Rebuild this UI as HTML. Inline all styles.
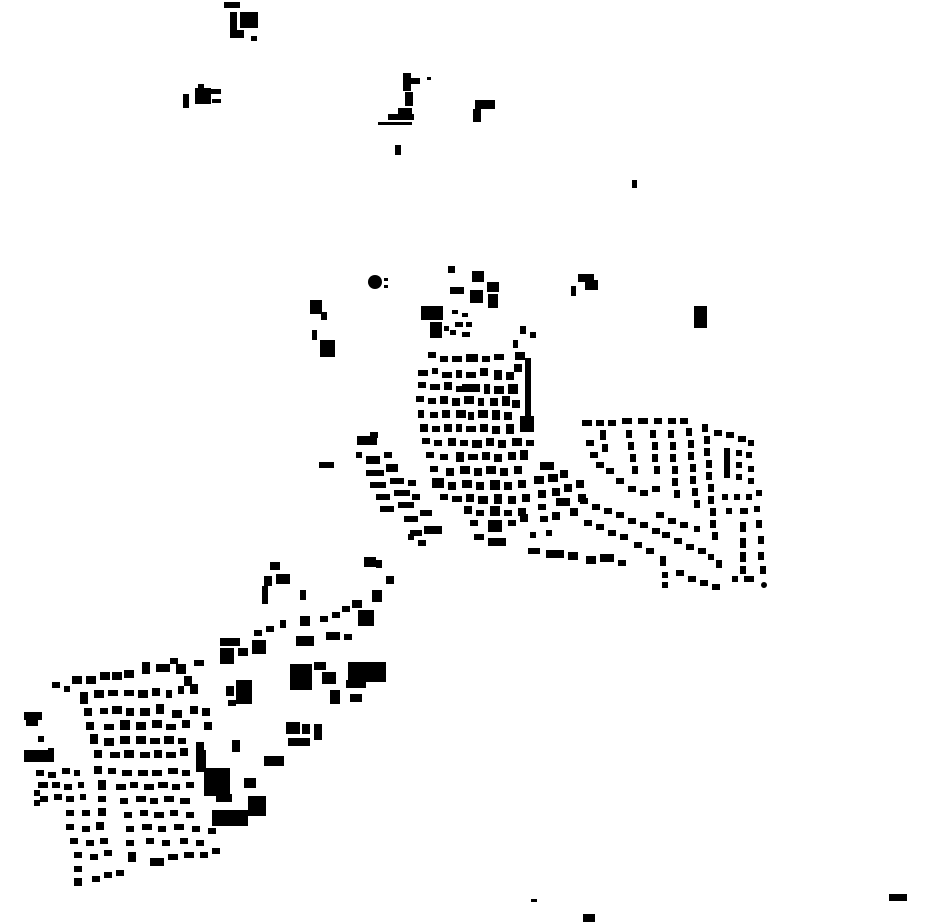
<!DOCTYPE html>
<html><head><meta charset="utf-8"><style>
html,body{margin:0;padding:0;background:#fff;width:930px;height:924px;overflow:hidden}
svg{display:block}
</style></head><body>
<svg width="930" height="924" viewBox="0 0 930 924" xmlns="http://www.w3.org/2000/svg">
<g fill="#000">
<!-- top -->
<rect x="224" y="2" width="16" height="6"/><rect x="240" y="12" width="18" height="16"/><rect x="230" y="12" width="7" height="26"/><rect x="234" y="30" width="10" height="8"/><rect x="251" y="36" width="6" height="5"/>
<rect x="183" y="94" width="6" height="14"/><rect x="195" y="88" width="16" height="16"/><rect x="210" y="89" width="11" height="5"/><rect x="212" y="99" width="9" height="4"/><rect x="198" y="84" width="6" height="4"/>
<rect x="403" y="73" width="8" height="18"/><rect x="410" y="78" width="10" height="6"/><rect x="405" y="92" width="8" height="14"/><rect x="398" y="108" width="14" height="6"/><rect x="388" y="114" width="26" height="6"/><rect x="378" y="122" width="34" height="3"/><rect x="427" y="77" width="4" height="3"/>
<rect x="475" y="100" width="20" height="9"/><rect x="473" y="109" width="8" height="13"/>
<rect x="395" y="145" width="6" height="10"/>
<rect x="632" y="180" width="5" height="8"/>
<!-- middle misc -->
<circle cx="375" cy="282" r="7"/><rect x="384" y="278" width="4" height="3"/><rect x="384" y="285" width="4" height="3"/>
<rect x="310" y="300" width="12" height="14"/><rect x="321" y="312" width="6" height="8"/><rect x="312" y="330" width="5" height="10"/><rect x="320" y="340" width="15" height="17"/>
<rect x="694" y="306" width="13" height="22"/>
<rect x="578" y="274" width="16" height="8"/><rect x="585" y="280" width="13" height="10"/><rect x="571" y="286" width="5" height="10"/>
<rect x="448" y="266" width="7" height="7"/><rect x="472" y="271" width="12" height="11"/><rect x="450" y="287" width="14" height="7"/><rect x="470" y="290" width="13" height="13"/><rect x="487" y="282" width="12" height="10"/><rect x="488" y="294" width="10" height="14"/>
<rect x="421" y="306" width="22" height="14"/><rect x="430" y="322" width="12" height="16"/><rect x="444" y="326" width="5" height="5"/>
<rect x="319" y="462" width="15" height="6"/>
<!-- village core -->
<rect x="452" y="310" width="6" height="4"/><rect x="462" y="313" width="6" height="4"/><rect x="455" y="322" width="8" height="5"/><rect x="466" y="322" width="6" height="5"/><rect x="450" y="330" width="6" height="5"/><rect x="462" y="332" width="8" height="5"/>
<rect x="520" y="326" width="6" height="8"/><rect x="530" y="332" width="6" height="6"/><rect x="513" y="340" width="5" height="8"/>
<rect x="428" y="352" width="8" height="6"/><rect x="440" y="356" width="8" height="6"/><rect x="452" y="356" width="10" height="6"/><rect x="466" y="354" width="12" height="8"/><rect x="482" y="356" width="8" height="6"/><rect x="494" y="354" width="10" height="6"/>
<rect x="515" y="352" width="10" height="8"/><rect x="525" y="358" width="6" height="60"/><rect x="514" y="364" width="8" height="8"/>
<rect x="418" y="370" width="10" height="6"/><rect x="432" y="368" width="6" height="6"/><rect x="442" y="372" width="10" height="6"/><rect x="456" y="370" width="6" height="8"/><rect x="466" y="372" width="10" height="6"/><rect x="480" y="368" width="8" height="8"/><rect x="494" y="370" width="8" height="10"/><rect x="506" y="372" width="8" height="8"/>
<rect x="418" y="382" width="8" height="6"/><rect x="430" y="384" width="10" height="6"/><rect x="444" y="382" width="8" height="8"/><rect x="456" y="386" width="6" height="6"/><rect x="462" y="384" width="18" height="8"/><rect x="484" y="384" width="6" height="10"/><rect x="494" y="386" width="10" height="8"/><rect x="508" y="384" width="10" height="10"/>
<rect x="416" y="396" width="8" height="6"/><rect x="428" y="398" width="8" height="6"/><rect x="440" y="396" width="8" height="8"/><rect x="452" y="398" width="8" height="8"/><rect x="464" y="396" width="10" height="8"/><rect x="478" y="398" width="6" height="8"/><rect x="490" y="398" width="8" height="8"/><rect x="502" y="396" width="8" height="10"/><rect x="512" y="400" width="8" height="8"/>
<rect x="418" y="410" width="6" height="8"/><rect x="430" y="412" width="8" height="6"/><rect x="442" y="410" width="8" height="8"/><rect x="456" y="410" width="10" height="8"/><rect x="468" y="412" width="6" height="8"/><rect x="478" y="410" width="10" height="8"/><rect x="492" y="410" width="8" height="10"/><rect x="504" y="412" width="8" height="8"/><rect x="520" y="416" width="14" height="16"/>
<rect x="420" y="424" width="8" height="8"/><rect x="432" y="426" width="8" height="6"/><rect x="444" y="424" width="8" height="8"/><rect x="456" y="424" width="6" height="8"/><rect x="466" y="426" width="10" height="6"/><rect x="480" y="424" width="8" height="8"/><rect x="492" y="426" width="8" height="8"/><rect x="506" y="424" width="8" height="10"/>
<rect x="422" y="438" width="8" height="6"/><rect x="434" y="440" width="8" height="6"/><rect x="448" y="438" width="8" height="8"/><rect x="460" y="440" width="8" height="6"/><rect x="472" y="440" width="10" height="8"/><rect x="486" y="438" width="8" height="8"/><rect x="498" y="440" width="8" height="8"/><rect x="512" y="438" width="10" height="8"/><rect x="526" y="440" width="8" height="6"/>
<rect x="426" y="452" width="8" height="6"/><rect x="440" y="454" width="8" height="6"/><rect x="456" y="452" width="8" height="10"/><rect x="468" y="454" width="10" height="6"/><rect x="482" y="452" width="8" height="8"/><rect x="494" y="454" width="8" height="8"/><rect x="508" y="452" width="8" height="8"/><rect x="520" y="450" width="8" height="10"/>
<rect x="430" y="466" width="8" height="6"/><rect x="446" y="468" width="8" height="8"/><rect x="460" y="466" width="10" height="8"/><rect x="474" y="468" width="8" height="8"/><rect x="486" y="466" width="10" height="8"/><rect x="500" y="468" width="8" height="8"/><rect x="514" y="466" width="8" height="8"/><rect x="540" y="462" width="14" height="8"/>
<rect x="432" y="478" width="12" height="10"/><rect x="448" y="482" width="8" height="8"/><rect x="462" y="480" width="10" height="8"/><rect x="476" y="482" width="8" height="8"/><rect x="490" y="480" width="10" height="10"/><rect x="504" y="482" width="8" height="8"/><rect x="518" y="480" width="8" height="8"/><rect x="534" y="476" width="10" height="8"/><rect x="548" y="474" width="10" height="8"/><rect x="560" y="470" width="8" height="8"/>
<rect x="440" y="494" width="8" height="6"/><rect x="452" y="496" width="10" height="6"/><rect x="466" y="494" width="8" height="8"/><rect x="478" y="496" width="10" height="8"/><rect x="494" y="494" width="8" height="10"/><rect x="508" y="496" width="8" height="8"/><rect x="522" y="494" width="8" height="8"/><rect x="538" y="490" width="8" height="8"/><rect x="552" y="488" width="8" height="8"/><rect x="564" y="484" width="8" height="8"/><rect x="576" y="480" width="8" height="8"/>
<rect x="464" y="506" width="8" height="8"/><rect x="476" y="510" width="8" height="6"/><rect x="490" y="506" width="10" height="10"/><rect x="504" y="510" width="8" height="6"/><rect x="518" y="508" width="8" height="8"/><rect x="538" y="504" width="8" height="6"/><rect x="556" y="498" width="14" height="8"/><rect x="578" y="494" width="8" height="8"/>
<rect x="470" y="520" width="8" height="6"/><rect x="488" y="520" width="14" height="12"/><rect x="508" y="520" width="8" height="6"/><rect x="520" y="514" width="8" height="8"/><rect x="540" y="516" width="8" height="6"/><rect x="552" y="512" width="8" height="8"/><rect x="570" y="508" width="8" height="8"/>
<rect x="474" y="534" width="10" height="6"/><rect x="488" y="538" width="18" height="8"/><rect x="530" y="532" width="6" height="6"/><rect x="546" y="530" width="6" height="6"/>
<rect x="528" y="548" width="12" height="6"/><rect x="546" y="550" width="18" height="8"/><rect x="568" y="552" width="10" height="8"/><rect x="586" y="556" width="10" height="8"/><rect x="600" y="554" width="14" height="8"/><rect x="618" y="560" width="8" height="6"/>
<!-- west diagonal row -->
<rect x="357" y="436" width="20" height="9"/><rect x="370" y="432" width="8" height="6"/><rect x="356" y="452" width="6" height="6"/><rect x="366" y="456" width="14" height="8"/><rect x="384" y="452" width="8" height="6"/>
<rect x="366" y="470" width="18" height="6"/><rect x="386" y="464" width="12" height="8"/><rect x="370" y="482" width="16" height="6"/><rect x="390" y="478" width="14" height="6"/><rect x="376" y="494" width="14" height="6"/><rect x="394" y="490" width="16" height="6"/><rect x="380" y="506" width="14" height="6"/><rect x="398" y="502" width="16" height="6"/><rect x="404" y="516" width="14" height="6"/><rect x="420" y="510" width="12" height="6"/><rect x="410" y="530" width="12" height="6"/><rect x="424" y="526" width="18" height="8"/><rect x="418" y="540" width="8" height="6"/><rect x="408" y="534" width="6" height="6"/>
<rect x="408" y="480" width="8" height="6"/><rect x="412" y="494" width="8" height="6"/>
<!-- east suburb -->
<rect x="582" y="420" width="10" height="6"/><rect x="596" y="420" width="8" height="6"/><rect x="608" y="420" width="8" height="6"/><rect x="622" y="418" width="10" height="6"/><rect x="638" y="418" width="10" height="6"/><rect x="654" y="418" width="8" height="6"/><rect x="668" y="418" width="8" height="6"/><rect x="680" y="418" width="8" height="6"/>
<rect x="600" y="430" width="6" height="10"/><rect x="602" y="444" width="6" height="8"/><rect x="586" y="440" width="8" height="6"/><rect x="590" y="452" width="8" height="6"/><rect x="596" y="462" width="8" height="6"/><rect x="606" y="468" width="8" height="6"/><rect x="616" y="478" width="8" height="6"/><rect x="628" y="486" width="8" height="6"/><rect x="640" y="490" width="8" height="6"/><rect x="652" y="486" width="8" height="6"/>
<rect x="626" y="430" width="6" height="8"/><rect x="628" y="442" width="6" height="8"/><rect x="630" y="454" width="6" height="8"/><rect x="632" y="466" width="6" height="8"/><rect x="650" y="430" width="6" height="8"/><rect x="652" y="442" width="6" height="8"/><rect x="652" y="454" width="6" height="8"/><rect x="654" y="466" width="6" height="8"/>
<rect x="668" y="430" width="6" height="8"/><rect x="670" y="442" width="6" height="8"/><rect x="670" y="454" width="6" height="8"/><rect x="672" y="466" width="6" height="8"/><rect x="672" y="478" width="6" height="8"/><rect x="674" y="490" width="6" height="8"/>
<rect x="686" y="428" width="6" height="8"/><rect x="688" y="440" width="6" height="8"/><rect x="688" y="452" width="6" height="8"/><rect x="690" y="464" width="6" height="8"/><rect x="690" y="476" width="6" height="8"/><rect x="692" y="488" width="6" height="8"/><rect x="694" y="500" width="6" height="8"/>
<rect x="702" y="424" width="6" height="8"/><rect x="704" y="436" width="6" height="8"/><rect x="704" y="448" width="6" height="8"/><rect x="706" y="460" width="6" height="8"/><rect x="706" y="472" width="6" height="8"/><rect x="708" y="484" width="6" height="8"/><rect x="708" y="496" width="6" height="8"/><rect x="710" y="508" width="6" height="8"/><rect x="710" y="520" width="6" height="8"/><rect x="712" y="532" width="6" height="8"/>
<rect x="714" y="430" width="8" height="6"/><rect x="726" y="432" width="8" height="6"/><rect x="738" y="436" width="8" height="6"/><rect x="748" y="440" width="6" height="6"/>
<rect x="724" y="448" width="6" height="30"/><rect x="736" y="450" width="6" height="6"/><rect x="746" y="452" width="6" height="6"/><rect x="736" y="462" width="6" height="6"/><rect x="748" y="466" width="6" height="6"/><rect x="736" y="474" width="6" height="6"/><rect x="748" y="478" width="6" height="6"/>
<rect x="722" y="494" width="6" height="6"/><rect x="734" y="494" width="6" height="6"/><rect x="746" y="494" width="6" height="6"/><rect x="756" y="490" width="6" height="6"/>
<rect x="726" y="508" width="6" height="6"/><rect x="740" y="508" width="8" height="6"/><rect x="754" y="506" width="6" height="6"/>
<rect x="740" y="522" width="6" height="10"/><rect x="756" y="520" width="6" height="8"/><rect x="740" y="538" width="6" height="10"/><rect x="758" y="536" width="6" height="8"/><rect x="740" y="552" width="6" height="10"/><rect x="758" y="552" width="6" height="8"/><rect x="740" y="566" width="6" height="8"/><rect x="760" y="566" width="6" height="8"/>
<rect x="732" y="576" width="6" height="6"/><rect x="744" y="576" width="10" height="6"/><circle cx="764" cy="585" r="3"/><rect x="716" y="560" width="6" height="8"/>
<rect x="580" y="498" width="8" height="6"/><rect x="592" y="504" width="8" height="6"/><rect x="604" y="508" width="8" height="6"/><rect x="616" y="512" width="8" height="6"/><rect x="628" y="518" width="8" height="6"/><rect x="640" y="522" width="8" height="6"/><rect x="652" y="528" width="8" height="6"/><rect x="662" y="532" width="8" height="6"/><rect x="674" y="538" width="8" height="6"/><rect x="686" y="544" width="8" height="6"/><rect x="698" y="548" width="8" height="6"/><rect x="708" y="554" width="6" height="6"/>
<rect x="584" y="520" width="8" height="6"/><rect x="596" y="524" width="8" height="6"/><rect x="608" y="530" width="8" height="6"/><rect x="620" y="534" width="8" height="6"/><rect x="634" y="542" width="8" height="6"/><rect x="646" y="548" width="8" height="6"/><rect x="660" y="556" width="6" height="10"/><rect x="662" y="572" width="6" height="6"/><rect x="662" y="582" width="6" height="6"/><rect x="676" y="570" width="8" height="6"/><rect x="688" y="576" width="8" height="6"/><rect x="700" y="580" width="8" height="6"/><rect x="712" y="584" width="8" height="6"/>
<rect x="656" y="512" width="8" height="6"/><rect x="668" y="518" width="8" height="6"/><rect x="680" y="522" width="8" height="6"/><rect x="694" y="526" width="6" height="6"/>
<!-- link to SW -->
<rect x="364" y="557" width="12" height="10"/><rect x="376" y="560" width="6" height="8"/><rect x="386" y="576" width="8" height="8"/>
<rect x="372" y="590" width="10" height="12"/><rect x="358" y="610" width="16" height="16"/><rect x="352" y="600" width="10" height="8"/><rect x="342" y="606" width="8" height="6"/><rect x="332" y="612" width="8" height="6"/><rect x="320" y="616" width="8" height="6"/><rect x="344" y="634" width="8" height="6"/>
<rect x="300" y="616" width="10" height="10"/><rect x="326" y="632" width="14" height="8"/><rect x="296" y="636" width="18" height="10"/><rect x="280" y="620" width="6" height="8"/><rect x="266" y="626" width="8" height="6"/><rect x="254" y="630" width="8" height="6"/>
<rect x="270" y="562" width="10" height="8"/><rect x="264" y="576" width="8" height="10"/><rect x="276" y="574" width="14" height="10"/><rect x="262" y="586" width="6" height="18"/><rect x="300" y="590" width="6" height="10"/>
<!-- SW town -->
<rect x="220" y="638" width="20" height="8"/><rect x="220" y="648" width="14" height="16"/><rect x="238" y="648" width="10" height="8"/><rect x="252" y="640" width="14" height="14"/><rect x="194" y="660" width="10" height="6"/><rect x="170" y="658" width="8" height="6"/>
<rect x="290" y="664" width="22" height="26"/><rect x="314" y="662" width="12" height="8"/><rect x="322" y="672" width="14" height="12"/><rect x="330" y="690" width="10" height="14"/><rect x="348" y="662" width="38" height="20"/><rect x="346" y="680" width="20" height="8"/><rect x="350" y="694" width="12" height="8"/>
<rect x="236" y="680" width="16" height="24"/><rect x="226" y="686" width="8" height="10"/><rect x="228" y="700" width="8" height="6"/>
<rect x="286" y="722" width="14" height="12"/><rect x="288" y="738" width="22" height="8"/><rect x="302" y="724" width="8" height="10"/><rect x="314" y="724" width="8" height="16"/>
<rect x="264" y="756" width="20" height="10"/>
<rect x="204" y="768" width="26" height="28"/><rect x="216" y="794" width="16" height="8"/><rect x="244" y="778" width="12" height="10"/><rect x="248" y="796" width="18" height="20"/><rect x="212" y="810" width="36" height="16"/><rect x="232" y="740" width="8" height="12"/>
<rect x="24" y="712" width="18" height="8"/><rect x="26" y="720" width="12" height="6"/><rect x="24" y="750" width="30" height="12"/>
<rect x="52" y="682" width="8" height="6"/><rect x="64" y="686" width="6" height="6"/><rect x="72" y="676" width="10" height="8"/><rect x="86" y="676" width="10" height="8"/><rect x="100" y="672" width="10" height="8"/><rect x="112" y="672" width="10" height="8"/><rect x="124" y="670" width="10" height="8"/><rect x="142" y="662" width="8" height="12"/><rect x="156" y="664" width="14" height="8"/><rect x="176" y="664" width="10" height="10"/><rect x="184" y="676" width="8" height="10"/><rect x="178" y="686" width="6" height="8"/><rect x="190" y="684" width="8" height="10"/>
<rect x="80" y="692" width="8" height="12"/><rect x="94" y="690" width="10" height="8"/><rect x="108" y="690" width="10" height="6"/><rect x="124" y="690" width="10" height="6"/><rect x="138" y="690" width="10" height="8"/><rect x="152" y="688" width="8" height="8"/><rect x="166" y="690" width="6" height="8"/>
<rect x="84" y="708" width="8" height="8"/><rect x="100" y="708" width="8" height="6"/><rect x="112" y="706" width="10" height="8"/><rect x="126" y="708" width="8" height="8"/><rect x="140" y="708" width="10" height="8"/><rect x="156" y="704" width="8" height="10"/><rect x="172" y="710" width="10" height="8"/><rect x="190" y="706" width="8" height="8"/><rect x="202" y="708" width="8" height="8"/>
<rect x="86" y="722" width="8" height="8"/><rect x="104" y="724" width="10" height="6"/><rect x="120" y="720" width="10" height="10"/><rect x="136" y="722" width="10" height="8"/><rect x="152" y="720" width="10" height="8"/><rect x="166" y="724" width="10" height="6"/><rect x="182" y="720" width="8" height="8"/><rect x="204" y="722" width="8" height="8"/>
<rect x="90" y="734" width="8" height="10"/><rect x="104" y="738" width="10" height="8"/><rect x="120" y="736" width="10" height="8"/><rect x="136" y="736" width="10" height="8"/><rect x="150" y="738" width="10" height="6"/><rect x="164" y="736" width="10" height="8"/><rect x="178" y="738" width="8" height="6"/><rect x="196" y="742" width="8" height="8"/>
<rect x="36" y="752" width="8" height="6"/><rect x="48" y="748" width="6" height="6"/><rect x="94" y="750" width="8" height="8"/><rect x="110" y="752" width="10" height="6"/><rect x="124" y="750" width="10" height="8"/><rect x="140" y="752" width="10" height="6"/><rect x="154" y="750" width="8" height="8"/><rect x="166" y="752" width="10" height="6"/><rect x="180" y="748" width="8" height="8"/><rect x="196" y="750" width="10" height="22"/>
<rect x="36" y="770" width="8" height="6"/><rect x="48" y="772" width="8" height="6"/><rect x="62" y="768" width="8" height="6"/><rect x="74" y="770" width="6" height="6"/><rect x="94" y="766" width="8" height="8"/><rect x="108" y="768" width="8" height="6"/><rect x="122" y="770" width="10" height="6"/><rect x="138" y="770" width="10" height="6"/><rect x="152" y="770" width="10" height="6"/><rect x="168" y="768" width="10" height="6"/><rect x="182" y="770" width="8" height="6"/>
<rect x="38" y="782" width="10" height="6"/><rect x="52" y="782" width="8" height="6"/><rect x="64" y="784" width="8" height="6"/><rect x="78" y="782" width="6" height="6"/><rect x="98" y="780" width="8" height="10"/><rect x="116" y="784" width="10" height="6"/><rect x="130" y="782" width="8" height="6"/><rect x="144" y="784" width="10" height="6"/><rect x="158" y="782" width="10" height="6"/><rect x="172" y="784" width="8" height="6"/><rect x="186" y="782" width="8" height="6"/>
<rect x="40" y="796" width="8" height="6"/><rect x="54" y="794" width="8" height="6"/><rect x="66" y="796" width="8" height="6"/><rect x="80" y="794" width="6" height="6"/><rect x="98" y="796" width="8" height="6"/><rect x="120" y="798" width="8" height="6"/><rect x="136" y="796" width="10" height="6"/><rect x="150" y="798" width="8" height="6"/><rect x="164" y="796" width="10" height="6"/><rect x="180" y="798" width="10" height="6"/>
<rect x="66" y="810" width="8" height="6"/><rect x="82" y="810" width="8" height="6"/><rect x="98" y="808" width="8" height="8"/><rect x="124" y="812" width="8" height="6"/><rect x="140" y="810" width="8" height="6"/><rect x="154" y="812" width="10" height="6"/><rect x="170" y="810" width="8" height="6"/><rect x="186" y="812" width="8" height="6"/>
<rect x="66" y="824" width="8" height="6"/><rect x="82" y="826" width="8" height="6"/><rect x="96" y="822" width="8" height="8"/><rect x="126" y="826" width="8" height="6"/><rect x="142" y="824" width="10" height="6"/><rect x="158" y="826" width="8" height="6"/><rect x="174" y="824" width="10" height="6"/><rect x="192" y="826" width="8" height="6"/><rect x="208" y="828" width="8" height="6"/>
<rect x="70" y="838" width="8" height="6"/><rect x="86" y="840" width="8" height="6"/><rect x="100" y="838" width="8" height="6"/><rect x="126" y="840" width="8" height="6"/><rect x="146" y="838" width="8" height="6"/><rect x="162" y="840" width="8" height="6"/><rect x="180" y="838" width="8" height="6"/><rect x="196" y="840" width="8" height="6"/>
<rect x="74" y="852" width="8" height="6"/><rect x="90" y="854" width="8" height="6"/><rect x="104" y="850" width="8" height="6"/><rect x="128" y="852" width="8" height="10"/><rect x="150" y="858" width="14" height="8"/><rect x="168" y="854" width="10" height="6"/><rect x="184" y="852" width="10" height="6"/><rect x="200" y="852" width="8" height="6"/><rect x="212" y="848" width="8" height="6"/>
<rect x="74" y="866" width="8" height="6"/><rect x="74" y="878" width="8" height="8"/><rect x="92" y="876" width="8" height="6"/><rect x="104" y="872" width="8" height="6"/><rect x="116" y="870" width="8" height="6"/>
<rect x="34" y="790" width="6" height="6"/><rect x="34" y="800" width="6" height="6"/><rect x="38" y="736" width="6" height="6"/>
<!-- bottom -->
<rect x="531" y="899" width="6" height="3"/><rect x="583" y="914" width="12" height="8"/><rect x="889" y="894" width="18" height="7"/>
</g>
</svg>
</body></html>
